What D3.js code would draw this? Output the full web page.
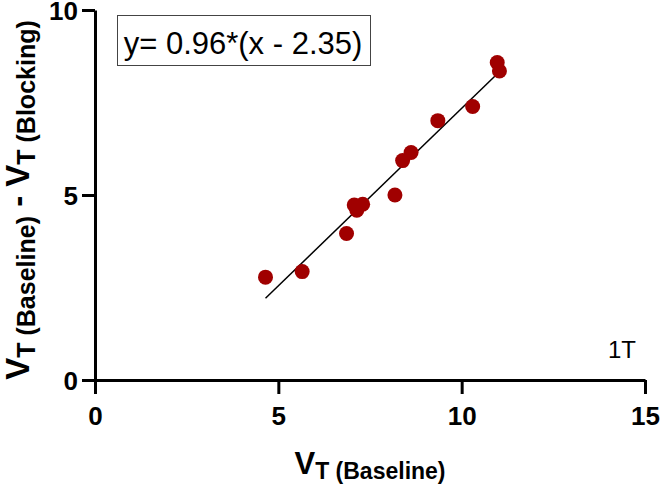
<!DOCTYPE html>
<html>
<head>
<meta charset="utf-8">
<script src="https://cdn.jsdelivr.net/npm/d3@7"></script>
<style>
  body { margin: 0; background: #fff; }
  text { font-family: Arial, "Liberation Sans", sans-serif; }
</style>
</head>
<body>
<div id="chart"></div>
<script>
var svgWidth = 661;
var svgHeight = 484;

// data
var baseline = [4.65, 5.65, 6.86, 7.07, 7.14, 7.30, 8.18, 8.39, 8.62, 9.35, 10.30, 10.97, 11.03];
var difference = [2.78, 2.93, 3.96, 4.73, 4.59, 4.75, 5.00, 5.93, 6.15, 7.01, 7.39, 8.58, 8.35];
var xTicks = [0, 5, 10, 15];
var yTicks = [0, 5, 10];
var slope = 0.96;
var xIntercept = 2.35;

var svg = d3.select("#chart")
  .append("svg")
  .attr("width", svgWidth)
  .attr("height", svgHeight);

var xScale = d3.scaleLinear().domain([0, 15]).range([95, 645]);
var yScale = d3.scaleLinear().domain([0, 10]).range([380, 10]);

// axes
var xAxis = svg.append("g")
  .attr("transform", "translate(0, 380)")
  .call(d3.axisBottom(xScale).tickValues(xTicks).tickSizeInner(14).tickSizeOuter(0).tickPadding(13));

var yAxis = svg.append("g")
  .attr("transform", "translate(95, 0)")
  .call(d3.axisLeft(yScale).tickValues(yTicks).tickSizeInner(13).tickSizeOuter(0).tickPadding(4));

[xAxis, yAxis].forEach(function(ax) {
  ax.selectAll("path, line").attr("stroke", "#000").attr("stroke-width", 3);
  ax.selectAll("text")
    .attr("fill", "#000")
    .style("font-size", "26px")
    .style("font-weight", "bold")
    .style("font-family", "Arial, 'Liberation Sans', sans-serif");
});
yAxis.selectAll("text").attr("dy", "0.38em");

// fit line
var lineX = d3.extent(baseline);
svg.append("line")
  .attr("x1", xScale(lineX[0]))
  .attr("y1", yScale(slope * (lineX[0] - xIntercept)))
  .attr("x2", xScale(lineX[1]))
  .attr("y2", yScale(slope * (lineX[1] - xIntercept)))
  .attr("stroke", "#000")
  .attr("stroke-width", 1.5);

// points
svg.selectAll("circle")
  .data(baseline)
  .enter()
  .append("circle")
  .attr("cx", function(d) { return xScale(d); })
  .attr("cy", function(d, i) { return yScale(difference[i]); })
  .attr("r", 7.5)
  .attr("fill", "#a00000");

// equation box
svg.append("rect")
  .attr("x", 117.5).attr("y", 15.5)
  .attr("width", 253).attr("height", 50)
  .attr("fill", "none")
  .attr("stroke", "#444")
  .attr("stroke-width", 1);

svg.append("text")
  .attr("x", 243).attr("y", 54)
  .attr("text-anchor", "middle")
  .style("font-size", "31px")
  .text("y= 0.96*(x - 2.35)");

svg.append("text")
  .attr("x", 636).attr("y", 358)
  .attr("text-anchor", "end")
  .style("font-size", "24px")
  .text("1T");

// x axis title
var xTitle = svg.append("text")
  .attr("x", 370).attr("y", 474)
  .attr("text-anchor", "middle")
  .style("font-weight", "bold");
xTitle.append("tspan").style("font-size", "31px").text("V");
xTitle.append("tspan").style("font-size", "23px").attr("dy", 5).text("T (Baseline)");

// y axis title
var yTitle = svg.append("text")
  .attr("transform", "translate(29, 200) rotate(-90)")
  .attr("text-anchor", "middle")
  .style("font-weight", "bold");
yTitle.append("tspan").style("font-size", "33px").text("V");
yTitle.append("tspan").style("font-size", "25px").attr("dy", 6).text("T (Baseline)");
yTitle.append("tspan").style("font-size", "33px").attr("dy", -6).text(" - V");
yTitle.append("tspan").style("font-size", "25px").attr("dy", 6).text("T (Blocking)");
</script>
</body>
</html>
